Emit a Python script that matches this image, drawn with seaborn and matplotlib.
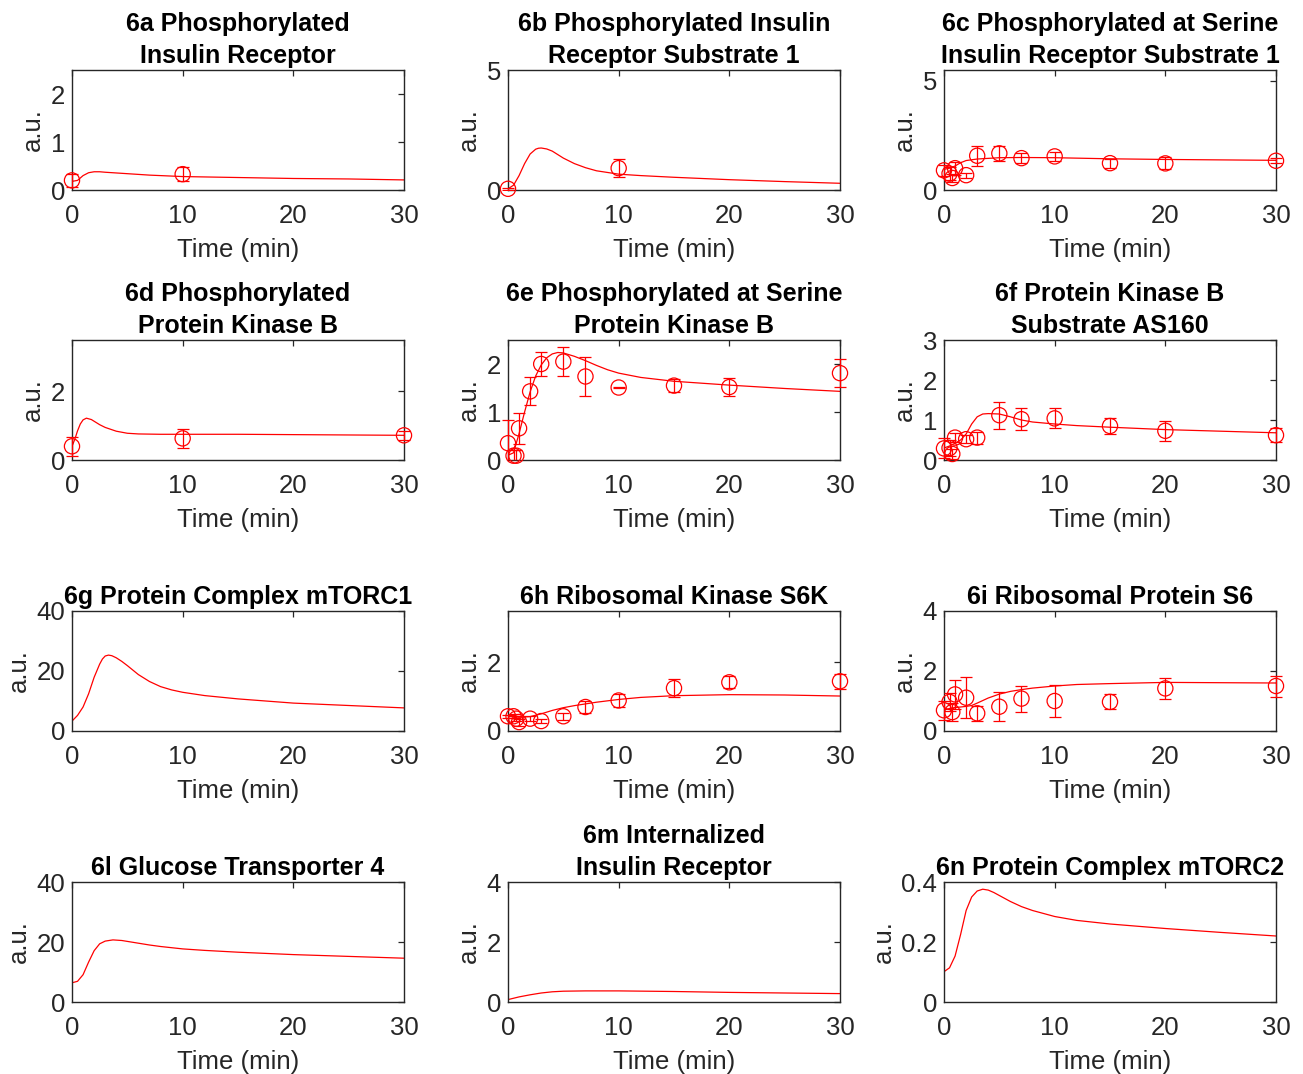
import numpy as np
import pandas as pd
import matplotlib
matplotlib.use("Agg")
import matplotlib.pyplot as plt
import matplotlib.transforms as mtransforms
import seaborn as sns

sns.set_theme(style="white")
plt.rcParams['font.family'] = ['Liberation Sans', 'DejaVu Sans']

# ---------------- data ----------------
titles = [
    "6a Phosphorylated\nInsulin Receptor",
    "6b Phosphorylated Insulin\nReceptor Substrate 1",
    "6c Phosphorylated at Serine\nInsulin Receptor Substrate 1",
    "6d Phosphorylated\nProtein Kinase B",
    "6e Phosphorylated at Serine\nProtein Kinase B",
    "6f Protein Kinase B\nSubstrate AS160",
    "6g Protein Complex mTORC1",
    "6h Ribosomal Kinase S6K",
    "6i Ribosomal Protein S6",
    "6l Glucose Transporter 4",
    "6m Internalized\nInsulin Receptor",
    "6n Protein Complex mTORC2",
]

x_ticks = [0, 10, 20, 30]

# 6a
a_ct = [0, 0.5, 1, 1.5, 2, 2.5, 3, 5, 7, 10, 15, 20, 25, 30]
a_cy = [0.18, 0.2, 0.3, 0.36, 0.38, 0.38, 0.37, 0.34, 0.31, 0.28, 0.26, 0.24, 0.23, 0.21]
a_dt = [0, 10]
a_dy = [0.2, 0.33]
a_de = [0.14, 0.145]
a_ylim = (0, 2.5); a_yt = [0, 1, 2]

# 6b
b_ct = [0, 0.5, 1, 1.5, 2, 2.5, 2.75, 3, 3.5, 4, 5, 6, 7, 8, 10, 12, 15, 20, 25, 30]
b_cy = [0.05, 0.2, 0.6, 1.1, 1.5, 1.7, 1.74, 1.75, 1.71, 1.62, 1.33, 1.1, 0.93, 0.8, 0.66, 0.6, 0.53, 0.43, 0.35, 0.28]
b_dt = [0, 10]
b_dy = [0.05, 0.91]
b_de = [0.04, 0.37]
b_ylim = (0, 5); b_yt = [0, 5]

# 6c
c_ct = [0, 0.5, 1, 1.5, 2, 3, 5, 7, 10, 15, 20, 30]
c_cy = [0.95, 1.0, 1.1, 1.25, 1.35, 1.42, 1.48, 1.49, 1.48, 1.43, 1.40, 1.36]
c_dt = [0, 0.5, 0.75, 1, 2, 3, 5, 7, 10, 15, 20, 30]
c_dy = [0.9, 0.75, 0.55, 1.0, 0.68, 1.57, 1.68, 1.46, 1.54, 1.23, 1.22, 1.34]
c_de = [0.25, 0.3, 0.2, 0.3, 0.12, 0.46, 0.35, 0.22, 0.2, 0.2, 0.27, 0.12]
c_ylim = (0, 5.5); c_yt = [0, 5]

# 6d
d_ct = [0, 0.25, 0.5, 0.75, 1, 1.3, 1.75, 2.5, 3, 4, 5, 6, 8, 10, 15, 20, 30]
d_cy = [0.4, 0.6, 0.85, 1.05, 1.17, 1.22, 1.18, 1.03, 0.95, 0.84, 0.78, 0.76, 0.75, 0.75, 0.75, 0.74, 0.72]
d_dt = [0, 10, 30]
d_dy = [0.40, 0.63, 0.72]
d_de = [0.27, 0.27, 0.13]
d_ylim = (0, 3.5); d_yt = [0, 2]

# 6e
e_ct = [0, 0.5, 1, 1.5, 2, 2.5, 3, 3.5, 4, 4.5, 5, 6, 7, 8, 9, 10, 12, 15, 20, 25, 30]
e_cy = [0.1, 0.15, 0.55, 1.0, 1.42, 1.75, 1.98, 2.13, 2.21, 2.24, 2.23, 2.16, 2.07, 1.97, 1.88, 1.81, 1.72, 1.64, 1.56, 1.49, 1.43]
e_dt = [0, 0.5, 0.75, 1, 2, 3, 5, 7, 10, 15, 20, 30]
e_dy = [0.35, 0.09, 0.09, 0.66, 1.43, 2.0, 2.05, 1.74, 1.51, 1.55, 1.52, 1.81]
e_de = [0.49, 0.12, 0.12, 0.32, 0.29, 0.24, 0.3, 0.41, 0.01, 0.14, 0.18, 0.29]
e_ylim = (0, 2.5); e_yt = [0, 1, 2]

# 6f
f_ct = [0, 0.5, 1, 1.5, 2, 2.5, 3, 3.5, 4, 5, 6, 7, 8, 10, 12, 15, 20, 25, 30]
f_cy = [0.3, 0.35, 0.42, 0.5, 0.65, 0.9, 1.08, 1.15, 1.16, 1.15, 1.08, 1.0, 0.95, 0.9, 0.86, 0.82, 0.76, 0.72, 0.68]
f_dt = [0, 0.5, 0.75, 1, 2, 3, 5, 7, 10, 15, 20, 30]
f_dy = [0.29, 0.3, 0.15, 0.56, 0.52, 0.56, 1.12, 1.02, 1.04, 0.85, 0.73, 0.62]
f_de = [0.25, 0.2, 0.12, 0.12, 0.1, 0.15, 0.34, 0.28, 0.25, 0.2, 0.25, 0.17]
f_ylim = (0, 3); f_yt = [0, 1, 2, 3]

# 6g
g_ct = [0, 0.5, 1, 1.5, 2, 2.5, 2.75, 3, 3.3, 3.6, 4, 4.5, 5, 6, 7, 8, 9, 10, 12, 15, 20, 25, 30]
g_cy = [3.3, 5.2, 8.0, 12.4, 17.9, 22.3, 24.0, 25.0, 25.3, 25.1, 24.4, 23.2, 21.8, 18.8, 16.5, 14.8, 13.7, 12.9, 11.8, 10.7, 9.3, 8.5, 7.7]
g_ylim = (0, 40); g_yt = [0, 20, 40]

# 6h
h_ct = [0, 1, 2, 3, 4, 5, 6, 7, 8, 10, 12, 15, 20, 25, 30]
h_cy = [0.43, 0.4, 0.42, 0.5, 0.6, 0.68, 0.74, 0.79, 0.84, 0.92, 0.98, 1.03, 1.06, 1.05, 1.02]
h_dt = [0, 0.5, 0.75, 1, 2, 3, 5, 7, 10, 15, 20, 30]
h_dy = [0.43, 0.43, 0.36, 0.26, 0.36, 0.29, 0.43, 0.70, 0.89, 1.25, 1.42, 1.45]
h_de = [0.05, 0.06, 0.08, 0.1, 0.08, 0.07, 0.1, 0.17, 0.18, 0.27, 0.17, 0.22]
h_ylim = (0, 3.5); h_yt = [0, 2]

# 6i
i_ct = [0, 0.5, 1, 2, 2.5, 3, 4, 5, 6, 7, 8, 10, 12, 15, 20, 25, 30]
i_cy = [0.7, 0.75, 0.78, 0.82, 0.85, 0.93, 1.1, 1.23, 1.32, 1.38, 1.43, 1.5, 1.55, 1.58, 1.62, 1.61, 1.6]
i_dt = [0, 0.5, 0.75, 1, 2, 3, 5, 7, 10, 15, 20, 30]
i_dy = [0.69, 0.97, 0.63, 1.22, 1.11, 0.59, 0.81, 1.08, 1.0, 0.97, 1.42, 1.5]
i_de = [0.32, 0.3, 0.3, 0.47, 0.68, 0.25, 0.48, 0.43, 0.52, 0.25, 0.34, 0.35]
i_ylim = (0, 4); i_yt = [0, 2, 4]

# 6l
l_ct = [0, 0.5, 1, 1.5, 2, 2.5, 3, 3.7, 4.5, 5, 6, 7, 8, 10, 12, 15, 20, 25, 30]
l_cy = [6.4, 6.9, 9.1, 13.3, 17.1, 19.4, 20.3, 20.7, 20.5, 20.2, 19.6, 19.0, 18.5, 17.7, 17.2, 16.6, 15.8, 15.2, 14.6]
l_ylim = (0, 40); l_yt = [0, 20, 40]

# 6m
m_ct = [0, 1, 2, 3, 4, 5, 7, 10, 15, 20, 25, 30]
m_cy = [0.08, 0.17, 0.24, 0.3, 0.34, 0.36, 0.37, 0.37, 0.35, 0.32, 0.3, 0.28]
m_ylim = (0, 4); m_yt = [0, 2, 4]

# 6n
n_ct = [0, 0.5, 1, 1.5, 2, 2.5, 3, 3.5, 4, 4.5, 5, 6, 7, 8, 10, 12, 15, 20, 25, 30]
n_cy = [0.101, 0.114, 0.153, 0.225, 0.305, 0.35, 0.370, 0.376, 0.373, 0.365, 0.355, 0.335, 0.318, 0.305, 0.285, 0.272, 0.26, 0.245, 0.232, 0.22]
n_ylim = (0, 0.4); n_yt = [0, 0.2, 0.4]
n_ytl = ["0", "0.2", "0.4"]

panels = [
    (a_ct, a_cy, a_dt, a_dy, a_de, a_ylim, a_yt, None),
    (b_ct, b_cy, b_dt, b_dy, b_de, b_ylim, b_yt, None),
    (c_ct, c_cy, c_dt, c_dy, c_de, c_ylim, c_yt, None),
    (d_ct, d_cy, d_dt, d_dy, d_de, d_ylim, d_yt, None),
    (e_ct, e_cy, e_dt, e_dy, e_de, e_ylim, e_yt, None),
    (f_ct, f_cy, f_dt, f_dy, f_de, f_ylim, f_yt, None),
    (g_ct, g_cy, None, None, None, g_ylim, g_yt, None),
    (h_ct, h_cy, h_dt, h_dy, h_de, h_ylim, h_yt, None),
    (i_ct, i_cy, i_dt, i_dy, i_de, i_ylim, i_yt, None),
    (l_ct, l_cy, None, None, None, l_ylim, l_yt, None),
    (m_ct, m_cy, None, None, None, m_ylim, m_yt, None),
    (n_ct, n_cy, None, None, None, n_ylim, n_yt, n_ytl),
]

# ---------------- layout ----------------
W, H = 1303, 1074
fig = plt.figure(figsize=(W / 100, H / 100), dpi=100)
fig.patch.set_facecolor("white")

col_left = [72, 508, 944]
row_top = [70, 340, 611, 882]
ax_w, ax_h = 332, 120
dark = "#262626"
red = "#FF0000"

for k, (ct, cy, dt, dy, de, ylim, yt, ytl) in enumerate(panels):
    r, c = divmod(k, 3)
    left = col_left[c] / W
    bottom = 1 - (row_top[r] + ax_h) / H
    ax = fig.add_axes([left, bottom, ax_w / W, ax_h / H])
    ax.set_facecolor("white")

    curve = pd.DataFrame({"t": ct, "y": cy})
    sns.lineplot(data=curve, x="t", y="y", color=red, linewidth=0.9, ax=ax)

    if dt is not None:
        eb = ax.errorbar(dt, dy, yerr=de, fmt="none", ecolor=red,
                         elinewidth=0.9, capsize=4.5, capthick=0.9, zorder=3)
        clip = mtransforms.TransformedBbox(
            mtransforms.Bbox([[-0.1, 0.0], [1.1, 1.0]]), ax.transAxes)
        for art in list(eb.lines[1]) + list(eb.lines[2]):
            art.set_clip_box(clip)
        pts = pd.DataFrame({"t": dt, "y": dy})
        sns.scatterplot(data=pts, x="t", y="y", marker="o", s=120,
                        facecolor="none", edgecolor=red, linewidth=0.9,
                        ax=ax, zorder=4, clip_on=False)

    ax.set_xlim(0, 30)
    ax.set_ylim(*ylim)
    ax.set_xticks(x_ticks)
    ax.set_yticks(yt)
    if ytl is not None:
        ax.set_yticklabels(ytl)

    ax.tick_params(axis="both", direction="in", top=True, right=True,
                   length=4, width=0.9, color=dark, labelcolor=dark,
                   labelsize=18.5)
    ax.tick_params(axis="x", pad=10)
    ax.tick_params(axis="y", pad=5)
    for sp in ax.spines.values():
        sp.set_visible(True)
        sp.set_color(dark)
        sp.set_linewidth(1.0)

    ax.set_xlabel("Time (min)", fontsize=18.5, color=dark, labelpad=7)
    ax.set_ylabel("a.u.", fontsize=18.5, color=dark, labelpad=4)
    ax.set_title(titles[k], fontsize=18, fontweight="bold", color="black",
                 pad=5, linespacing=1.4)

fig.savefig("out.png", dpi=100, facecolor="white")
